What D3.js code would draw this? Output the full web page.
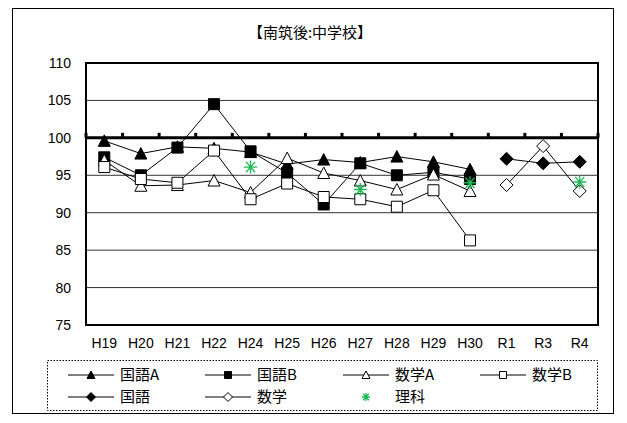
<!DOCTYPE html>
<html>
<head>
<meta charset="utf-8">
<script src="https://cdn.jsdelivr.net/npm/d3@7/dist/d3.min.js"></script>
<style>
  html, body { margin: 0; padding: 0; background: #fff; }
  svg { display: block; }
  text { font-family: "Liberation Sans", Arial, sans-serif; }
  .jp { font-family: "Noto Sans CJK JP", "Noto Sans CJK SC", sans-serif; }
</style>
</head>
<body>
<svg id="chart" width="627" height="423"></svg>
<script>
// Survey years on the category axis
const categories = ["H19", "H20", "H21", "H22", "H24", "H25", "H26", "H27", "H28", "H29", "H30", "R1", "R3", "R4"];
const yTicks = [75, 80, 85, 90, 95, 100, 105, 110];

// Scores per subject (null = not tested that year)
const kokugoA = [99.6, 97.9, 98.8, 98.6, 98.1, 96.5, 97.1, 96.7, 97.5, 96.8, 95.8, null, null, null];
const kokugoB = [97.4, 95.0, 98.7, 104.5, 98.2, 95.3, 91.1, 96.6, 95.0, 95.4, 94.5, null, null, null];
const sugakuA = [97.0, 93.6, 93.7, 94.3, 92.7, 97.3, 95.3, 94.3, 93.1, 95.1, 92.9, null, null, null];
const sugakuB = [96.1, 94.5, 94.0, 98.3, 91.8, 93.9, 92.1, 91.8, 90.8, 93.0, 86.3, null, null, null];
const kokugo  = [null, null, null, null, null, null, null, null, null, null, null, 97.2, 96.6, 96.8];
const sugaku  = [null, null, null, null, null, null, null, null, null, null, null, 93.7, 98.9, 92.9];
const rika    = [null, null, null, null, 96.1, null, null, 93.1, null, null, 94.0, null, null, 94.1];

const series = [
  { name: "国語A", values: kokugoA, marker: "triangle", fill: "#000", line: true },
  { name: "国語B", values: kokugoB, marker: "square", fill: "#000", line: true },
  { name: "数学A", values: sugakuA, marker: "triangle", fill: "#fff", line: true },
  { name: "数学B", values: sugakuB, marker: "square", fill: "#fff", line: true },
  { name: "国語", values: kokugo, marker: "diamond", fill: "#000", line: true },
  { name: "数学", values: sugaku, marker: "diamond", fill: "#fff", line: true },
  { name: "理科", values: rika, marker: "asterisk", fill: "none", line: false }
];

const svg = d3.select("#chart");
const plot = { left: 86, right: 598, top: 63, bottom: 325 };

// Outer chart frame
svg.append("rect")
  .attr("x", 12.5).attr("y", 8.5).attr("width", 601).attr("height", 405)
  .attr("fill", "#fff").attr("stroke", "#000").attr("stroke-width", 1);

// Title
svg.append("text").attr("class", "jp")
  .attr("x", 310).attr("y", 38)
  .attr("text-anchor", "middle")
  .attr("font-size", 15).attr("font-weight", 400)
  .text("【南筑後:中学校】");

const x = d3.scaleBand().domain(categories).range([plot.left, plot.right]).padding(0);
const cx = c => x(c) + x.bandwidth() / 2;
const y = d3.scaleLinear().domain([75, 110]).range([plot.bottom, plot.top]);

// Horizontal gridlines
svg.append("g")
  .selectAll("line")
  .data(yTicks.filter(t => t !== 75 && t !== 110 && t !== 100))
  .join("line")
  .attr("x1", plot.left).attr("x2", plot.right)
  .attr("y1", d => y(d)).attr("y2", d => y(d))
  .attr("stroke", "#333").attr("stroke-width", 1);

// Plot area border
svg.append("rect")
  .attr("x", plot.left).attr("y", plot.top)
  .attr("width", plot.right - plot.left).attr("height", plot.bottom - plot.top)
  .attr("fill", "none").attr("stroke", "#000").attr("stroke-width", 2);

// Value axis
const yAxis = d3.axisLeft(y).tickValues(yTicks).tickSize(0).tickPadding(15);
const gy = svg.append("g").attr("transform", `translate(${plot.left},0)`).call(yAxis);
gy.select(".domain").remove();
gy.selectAll("text").attr("font-size", 14).attr("fill", "#000")
  .style("font-family", "'Liberation Sans', Arial, sans-serif");

// Category axis crossing at 100, with tick marks pointing up
const xAxisLine = svg.append("g").attr("transform", `translate(0,${y(100)})`);
xAxisLine.append("line")
  .attr("x1", plot.left).attr("x2", plot.right)
  .attr("stroke", "#000").attr("stroke-width", 3);
xAxisLine.selectAll("rect.tick")
  .data(categories.map(c => x(c)).concat([plot.right]))
  .join("rect").attr("class", "tick")
  .attr("x", d => d - 1.5).attr("y", -5).attr("width", 3).attr("height", 5)
  .attr("fill", "#000");

// Category labels below the plot
svg.append("g").selectAll("text")
  .data(categories)
  .join("text")
  .attr("x", d => cx(d)).attr("y", 348)
  .attr("text-anchor", "middle").attr("font-size", 14).attr("fill", "#000")
  .text(d => d);

// Marker path generators
function markerPath(type, s) {
  const h = s / 2;
  switch (type) {
    case "triangle": return `M0,${-h - 0.5}L${h + 0.5},${h}L${-h - 0.5},${h}Z`;
    case "square": return `M${-h},${-h}H${h}V${h}H${-h}Z`;
    case "diamond": return `M0,${-h - 1}L${h + 1},0L0,${h + 1}L${-h - 1},0Z`;
    case "asterisk": return `M${-h},0H${h}M${-h * 0.7},${-h * 0.8}L${h * 0.7},${h * 0.8}M${-h * 0.7},${h * 0.8}L${h * 0.7},${-h * 0.8}M0,${-h}V${h}`;
  }
}

function drawMarker(g, type, fill, px, py, s) {
  if (type === "asterisk") {
    g.append("path").attr("d", markerPath(type, s))
      .attr("transform", `translate(${px},${py})`)
      .attr("fill", "none").attr("stroke", "#1db954").attr("stroke-width", 1.3);
  } else {
    g.append("path").attr("d", markerPath(type, s))
      .attr("transform", `translate(${px},${py})`)
      .attr("fill", fill).attr("stroke", "#000").attr("stroke-width", 1);
  }
}

const lineGen = d3.line()
  .defined(d => d.v !== null)
  .x(d => cx(d.c)).y(d => y(d.v));

// Each series: line first, then its markers
series.forEach(s => {
  const pts = categories.map((c, i) => ({ c, v: s.values[i] }));
  const g = svg.append("g");
  if (s.line) {
    g.append("path").datum(pts).attr("d", lineGen)
      .attr("fill", "none").attr("stroke", "#000").attr("stroke-width", 1);
  }
  pts.filter(p => p.v !== null).forEach(p => {
    drawMarker(g, s.marker, s.fill, cx(p.c), y(p.v), s.marker === "asterisk" ? 13 : 11);
  });
});

// Legend
svg.append("rect")
  .attr("x", 47.5).attr("y", 360.5).attr("width", 550).attr("height", 50)
  .attr("fill", "#fff").attr("stroke", "#000").attr("stroke-width", 1)
  .attr("stroke-dasharray", "1.5,1.5");

const legendPos = [
  { lx: 68, ty: 375 }, { lx: 205, ty: 375 }, { lx: 343, ty: 375 }, { lx: 480, ty: 375 },
  { lx: 68, ty: 397 }, { lx: 205, ty: 397 }, { lx: 343, ty: 397 }
];
series.forEach((s, i) => {
  const p = legendPos[i];
  const g = svg.append("g");
  if (s.line) {
    g.append("line").attr("x1", p.lx).attr("x2", p.lx + 46)
      .attr("y1", p.ty).attr("y2", p.ty).attr("stroke", "#000").attr("stroke-width", 1);
  }
  drawMarker(g, s.marker, s.fill, p.lx + 23, p.ty, s.marker === "asterisk" ? 8 : 7);
  g.append("text").attr("class", "jp")
    .attr("x", p.lx + 52).attr("y", p.ty + 5)
    .attr("font-size", 15).attr("fill", "#000")
    .text(s.name);
});
</script>
</body>
</html>
